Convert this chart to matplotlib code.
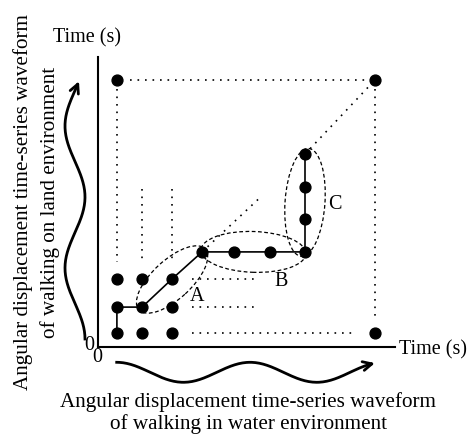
import numpy as np
import matplotlib.pyplot as plt
from matplotlib.patches import Ellipse

plt.rcParams['font.family'] = ['Liberation Serif', 'DejaVu Serif']

# grid positions (schematic units) of the sample columns / rows
col_x = [0.63, 1.47, 2.47, 3.47, 4.53, 5.73, 6.9, 9.23]
row_y = [0.47, 1.33, 2.27, 3.17, 4.27, 5.33, 6.43, 8.9]

# (column, row) of every dot
dots = [(0, 0), (1, 0), (2, 0), (7, 0),
        (0, 1), (1, 1), (2, 1),
        (0, 2), (1, 2), (2, 2),
        (3, 3), (4, 3), (5, 3), (6, 3),
        (6, 4), (6, 5), (6, 6),
        (0, 7), (7, 7)]

# warping path
path = [(0, 0), (0, 1), (1, 1), (2, 2), (3, 3), (4, 3), (5, 3), (6, 3),
        (6, 4), (6, 5), (6, 6)]

# dotted guide segments: ((x0, y0), (x1, y1))
dotted = [((1.07, 8.9), (8.96, 8.9)),
          ((0.63, 8.6), (0.63, 2.82)),
          ((1.47, 5.27), (1.47, 2.82)),
          ((2.47, 5.27), (2.47, 2.82)),
          ((9.23, 8.6), (9.23, 0.93)),
          ((3.12, 0.47), (8.6, 0.47)),
          ((3.12, 1.33), (5.29, 1.33)),
          ((3.12, 2.27), (5.29, 2.27)),
          ((6.9, 6.43), (9.23, 8.9)),
          ((3.47, 3.17), (5.4, 4.98))]

# groups: label, centre, width, height, angle, label position
groups = [("A", (2.47, 2.25), 3.0, 1.3, 42.6, (3.29, 1.71)),
          ("B", (5.18, 3.17), 3.5, 1.36, -2, (6.12, 2.21)),
          ("C", (6.9, 4.82), 1.33, 3.6, -4, (7.9, 4.77))]

W, H = 470, 435
fig = plt.figure(figsize=(4.7, 4.35), dpi=100)
ax = fig.add_axes([98 / W, 1 - 348 / H, 297 / W, 290 / H])
ax.set_xlim(0, 9.9)
ax.set_ylim(0, 9.667)
for s in ['top', 'right']:
    ax.spines[s].set_visible(False)
for s in ['left', 'bottom']:
    ax.spines[s].set_linewidth(1.5)
ax.set_xticks([])
ax.set_yticks([])

for (x0, y0), (x1, y1) in dotted:
    ax.plot([x0, x1], [y0, y1], color='k', lw=1.2, ls=(0, (1, 3.5)))

px = [col_x[c] for c, r in path]
py = [row_y[r] for c, r in path]
ax.plot(px, py, color='k', lw=1.2)

dx = [col_x[c] for c, r in dots]
dy = [row_y[r] for c, r in dots]
ax.plot(dx, dy, 'o', color='k', ms=7.8, ls='none')

for lab, c, w, h, a, lp in groups:
    ax.add_patch(Ellipse(c, w, h, angle=a, fill=False, ec='k', lw=0.9,
                         ls=(0, (3, 2))))
    ax.text(lp[0], lp[1], lab, fontsize=14.5, ha='center', va='center')

# wavy arrows (figure pixel coordinates)
ov = fig.add_axes([0, 0, 1, 1])
ov.set_xlim(0, W)
ov.set_ylim(H, 0)
ov.axis('off')

t = np.linspace(0, 3.63 * np.pi, 200)
yy = 340 - t / np.pi * 71
xx = 75 + 10 * np.cos(t)
ov.plot(xx[:-3], yy[:-3], color='k', lw=2)
ov.annotate('', xy=(xx[-1], yy[-1]), xytext=(xx[-6], yy[-6]),
            arrowprops=dict(arrowstyle='->', lw=2, color='k',
                            mutation_scale=16, shrinkA=0, shrinkB=0))

t = np.linspace(0, 3.87 * np.pi, 200)
xx = 116.7 + t / np.pi * 66.7
yy = 373.3 - 10 * np.cos(t)
ov.plot(xx[:-3], yy[:-3], color='k', lw=2)
ov.annotate('', xy=(xx[-1], yy[-1]), xytext=(xx[-6], yy[-6]),
            arrowprops=dict(arrowstyle='->', lw=2, color='k',
                            mutation_scale=16, shrinkA=0, shrinkB=0))

fs = 15.25
ov.text(87, 38, "Time (s)", fontsize=14.5, ha='center', va='center')
ov.text(399, 350, "Time (s)", fontsize=14.5, ha='left', va='center')
ov.text(89, 346, "0", fontsize=14.5, ha='center', va='center')
ov.text(97.5, 358, "0", fontsize=14.5, ha='center', va='center')
ov.text(23, 202.5, "Angular displacement time-series waveform", fontsize=fs,
        rotation=90, ha='center', va='center')
ov.text(50, 202.5, "of walking on land environment", fontsize=fs,
        rotation=90, ha='center', va='center')
ov.text(248, 402, "Angular displacement time-series waveform", fontsize=fs,
        ha='center', va='center')
ov.text(248, 424, "of walking in water environment", fontsize=fs,
        ha='center', va='center')

fig.savefig('out.png', dpi=100)
